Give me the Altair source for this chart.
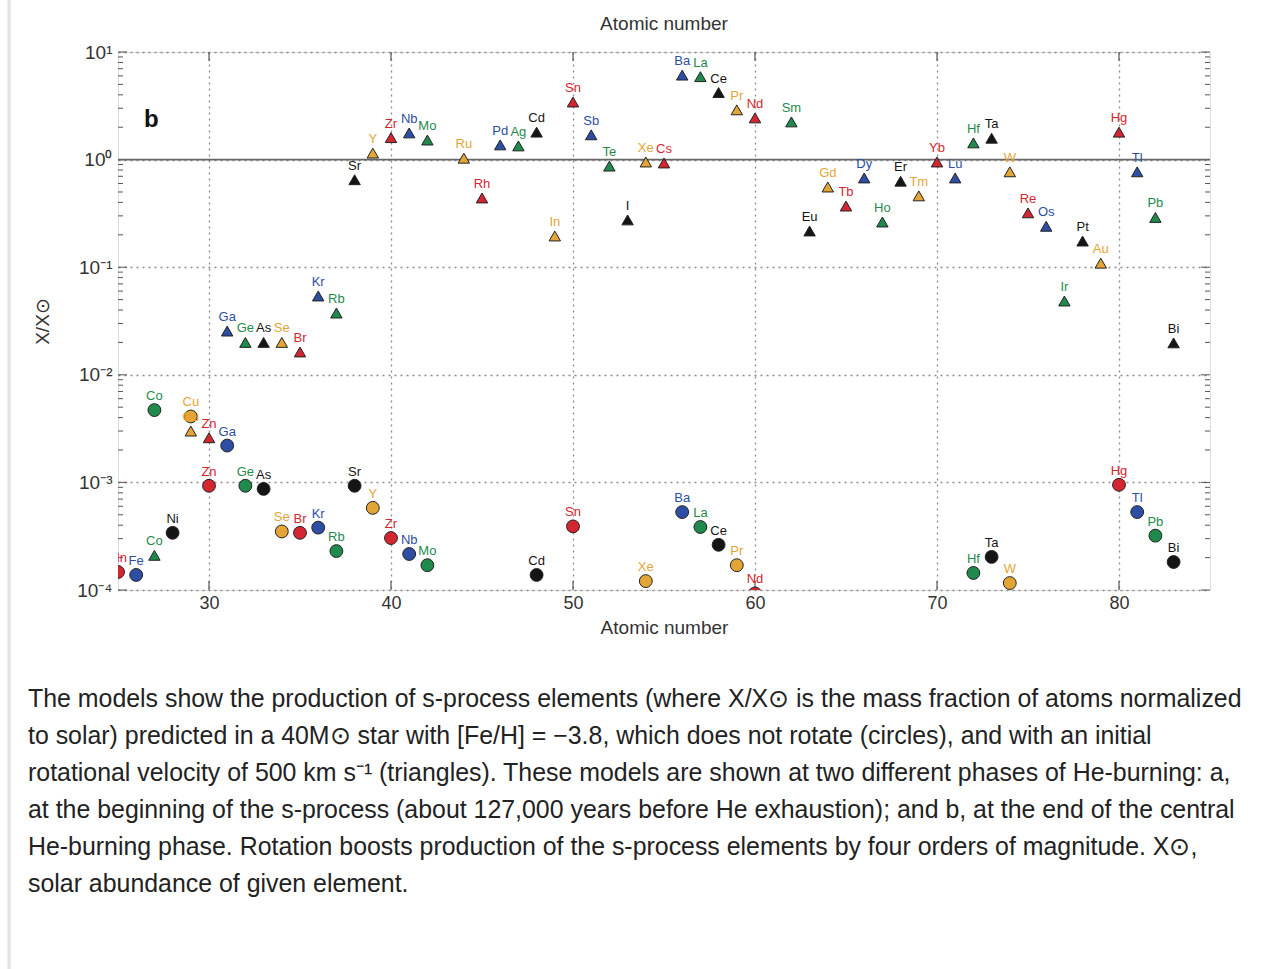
import altair as alt
import pandas as pd

# ---- data (panel b) ----
# rotating model (triangles)
tri_z = [27, 29, 30, 31, 32, 33, 34, 35, 36, 37, 38, 39, 40, 41, 42, 44, 45, 46, 47, 48,
         49, 50, 51, 52, 53, 54, 55, 56, 57, 58, 59, 60, 62, 63, 64, 65, 66, 67, 68, 69,
         70, 71, 72, 73, 74, 75, 76, 77, 78, 79, 80, 81, 82, 83]
tri_sym = ["Co", "Cu", "Zn", "Ga", "Ge", "As", "Se", "Br", "Kr", "Rb", "Sr", "Y", "Zr", "Nb", "Mo",
           "Ru", "Rh", "Pd", "Ag", "Cd", "In", "Sn", "Sb", "Te", "I", "Xe", "Cs", "Ba", "La", "Ce",
           "Pr", "Nd", "Sm", "Eu", "Gd", "Tb", "Dy", "Ho", "Er", "Tm", "Yb", "Lu", "Hf", "Ta", "W",
           "Re", "Os", "Ir", "Pt", "Au", "Hg", "Tl", "Pb", "Bi"]
tri_val = [2.1e-4, 3.0e-3, 2.6e-3, 0.0255, 0.020, 0.020, 0.020, 0.0163, 0.054, 0.0375,
           0.65, 1.15, 1.6, 1.77, 1.52, 1.03, 0.44, 1.37, 1.34, 1.8,
           0.195, 3.43, 1.7, 0.87, 0.275, 0.95, 0.93, 6.1, 5.9, 4.2,
           2.9, 2.44, 2.24, 0.217, 0.556, 0.37, 0.675, 0.263, 0.63, 0.46,
           0.95, 0.675, 1.43, 1.58, 0.77, 0.32, 0.24, 0.0485, 0.175, 0.109,
           1.8, 0.77, 0.29, 0.0198]

# non-rotating model (circles)
circ_z = [25, 26, 27, 28, 29, 30, 31, 32, 33, 34, 35, 36, 37, 38, 39, 40, 41, 42, 48, 50,
          54, 56, 57, 58, 59, 60, 72, 73, 74, 80, 81, 82, 83]
circ_sym = ["Mn", "Fe", "Co", "Ni", "Cu", "Zn", "Ga", "Ge", "As", "Se", "Br", "Kr", "Rb", "Sr",
            "Y", "Zr", "Nb", "Mo", "Cd", "Sn", "Xe", "Ba", "La", "Ce", "Pr", "Nd", "Hf", "Ta",
            "W", "Hg", "Tl", "Pb", "Bi"]
circ_val = [1.47e-4, 1.38e-4, 4.7e-3, 3.4e-4, 4.1e-3, 9.3e-4, 2.2e-3, 9.3e-4, 8.7e-4, 3.5e-4,
            3.4e-4, 3.8e-4, 2.3e-4, 9.3e-4, 5.8e-4, 3.04e-4, 2.16e-4, 1.7e-4, 1.38e-4, 3.9e-4,
            1.21e-4, 5.3e-4, 3.85e-4, 2.63e-4, 1.7e-4, 9.3e-5, 1.44e-4, 2.03e-4, 1.16e-4,
            9.5e-4, 5.3e-4, 3.2e-4, 1.82e-4]

x_ticks = [30, 40, 50, 60, 70, 80]
y_ticks = [1e-4, 1e-3, 1e-2, 1e-1, 1, 10]
minor_ticks = [m * d for d in [1e-4, 1e-3, 1e-2, 1e-1, 1] for m in range(2, 10)]

caption_lines = [
    "The models show the production of s-process elements (where X/X\u2299 is the mass fraction of atoms normalized",
    "to solar) predicted in a 40M\u2299 star with [Fe/H] = \u22123.8, which does not rotate (circles), and with an initial",
    "rotational velocity of 500 km s\u207b\u00b9 (triangles). These models are shown at two different phases of He-burning: a,",
    "at the beginning of the s-process (about 127,000 years before He exhaustion); and b, at the end of the central",
    "He-burning phase. Rotation boosts production of the s-process elements by four orders of magnitude. X\u2299,",
    "solar abundance of given element.",
]

# ---- tables ----
groups = ["red", "blue", "green", "black", "orange"]
tri = pd.DataFrame({"Z": tri_z, "sym": tri_sym, "val": tri_val})
circ = pd.DataFrame({"Z": circ_z, "sym": circ_sym, "val": circ_val})
for df in (tri, circ):
    df["grp"] = [groups[z % 5] for z in df["Z"]]
labels = pd.concat([circ, tri], ignore_index=True)
minor = pd.DataFrame({"val": minor_ticks})
major = pd.DataFrame({"val": y_ticks})
xt = pd.DataFrame({"Z": x_ticks})
unity = pd.DataFrame({"val": [1.0]})

W, H = 1092, 538
FONT = "Liberation Sans"

color = alt.Color("grp:N", legend=None,
                  scale=alt.Scale(domain=groups,
                                  range=["#d42630", "#2d4ea3", "#1f8a4c", "#151515", "#e3a536"]))

xscale = alt.Scale(domain=[25, 85], nice=False, zero=False)
yscale = alt.Scale(type="log", domain=[1e-4, 10], nice=False)

xaxis = alt.Axis(values=x_ticks, grid=True, gridDash=[2, 4], gridColor="#8a8a8a", gridWidth=1.3,
                 ticks=False, domain=False, labelFontSize=18, labelFont=FONT, labelColor="#333",
                 labelPadding=4, title="Atomic number", titleFontSize=19, titleFont=FONT,
                 titleFontWeight="normal", titleColor="#333", titlePadding=6)
label_expr = ("datum.value >= 5 ? '10\u00b9' : datum.value >= 0.5 ? '10\u2070' : "
              "datum.value >= 0.05 ? '10\u207b\u00b9' : datum.value >= 0.005 ? '10\u207b\u00b2' : "
              "datum.value >= 0.0005 ? '10\u207b\u00b3' : '10\u207b\u2074'")
yaxis = alt.Axis(values=y_ticks, grid=True, gridDash=[2, 4], gridColor="#8a8a8a", gridWidth=1.3,
                 ticks=False, domain=False, labelExpr=label_expr, labelFontSize=19, labelFont=FONT,
                 labelColor="#333", labelPadding=6, title="X/X\u2299", titleFontSize=19,
                 titleFont=FONT, titleFontWeight="normal", titleColor="#333", titlePadding=24)

X = alt.X("Z:Q", scale=xscale, axis=xaxis)
Y = alt.Y("val:Q", scale=yscale, axis=yaxis)

base_grid = alt.Chart(tri).mark_point(opacity=0).encode(x=X, y=Y)

left_minor = alt.Chart(minor).mark_rule(color="#555", strokeWidth=1).encode(
    y=Y, x=alt.value(0), x2=alt.value(5))
right_minor = alt.Chart(minor).mark_rule(color="#555", strokeWidth=1).encode(
    y=Y, x=alt.value(W - 5), x2=alt.value(W))
left_major = alt.Chart(major).mark_rule(color="#555", strokeWidth=1).encode(
    y=Y, x=alt.value(0), x2=alt.value(9))
right_major = alt.Chart(major).mark_rule(color="#555", strokeWidth=1).encode(
    y=Y, x=alt.value(W - 9), x2=alt.value(W))
bottom_major = alt.Chart(xt).mark_rule(color="#555", strokeWidth=1.2).encode(
    x=X, y=alt.value(H), y2=alt.value(H - 9))
top_major = alt.Chart(xt).mark_rule(color="#555", strokeWidth=1.2).encode(
    x=X, y=alt.value(0), y2=alt.value(9))

unity_line = alt.Chart(unity).mark_rule(color="#666", strokeWidth=1.8).encode(y=Y)

circles = alt.Chart(circ).mark_point(shape="circle", filled=True, size=165, opacity=1,
                                     stroke="#222", strokeWidth=1, clip=True).encode(
    x=X, y=Y, fill=color)
triangles = alt.Chart(tri).mark_point(shape="triangle-up", filled=True, size=130, opacity=1,
                                      stroke="#222", strokeWidth=1, clip=True).encode(
    x=X, y=Y, fill=color)
texts = alt.Chart(labels).mark_text(dy=-14, fontSize=13, font=FONT, clip=True).encode(
    x=X, y=Y, text="sym:N", color=color)

one = pd.DataFrame({"a": [0]})
panel = alt.Chart(one).mark_text(
    text="b", fontSize=24, fontWeight="bold", font=FONT, color="#111", align="left",
    baseline="middle").encode(x=alt.value(26), y=alt.value(68))

top_title = alt.Chart(one).mark_text(
    text="Atomic number", fontSize=19, font=FONT, color="#333", align="center",
    baseline="middle").encode(x=alt.value(W / 2), y=alt.value(-28))

caption_layers = []
for i, line in enumerate(caption_lines):
    caption_layers.append(
        alt.Chart(one).mark_text(
            text=line, fontSize=24.9, font=FONT, color="#222", align="left",
            baseline="middle").encode(x=alt.value(-90), y=alt.value(648 + 37 * i)))

border = alt.Chart(one).mark_rule(color="#e2e2e2", strokeWidth=3).encode(
    x=alt.value(-109), y=alt.value(-52), y2=alt.value(969 - 52))

chart = alt.layer(
    base_grid, left_minor, right_minor, left_major, right_major, bottom_major, top_major,
    unity_line, circles, triangles, texts, panel, top_title, border, *caption_layers
).properties(
    width=W, height=H,
    autosize=alt.AutoSizeParams(type="none"),
    padding={"left": 118, "top": 52, "right": 60, "bottom": 379},
).configure_view(stroke="#555", strokeWidth=1.5).configure(background="white")

chart.save("out.html", embed_options={"renderer": "svg", "actions": False})
